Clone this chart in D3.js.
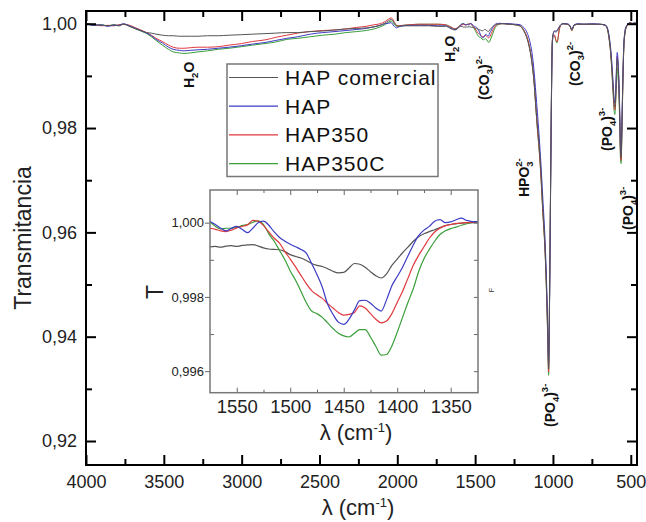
<!DOCTYPE html>
<html>
<head>
<meta charset="utf-8">
<script src="https://cdn.jsdelivr.net/npm/d3@7"></script>
<style>
  body { margin: 0; background: #fff; }
  svg { display: block; font-family: "Liberation Sans", Arial, sans-serif; }
</style>
</head>
<body>
<div id="chart"></div>
<script>
// ---- data ----
const seriesNames = ["HAP comercial", "HAP", "HAP350", "HAP350C"];

// main spectrum, outside the inset window (cm-1)
const mainWn = [4000, 3950, 3900, 3860, 3820, 3790, 3760, 3720, 3680, 3640, 3610, 3580, 3550, 3510, 3470, 3440, 3400, 3370, 3330, 3280,
  3220, 3150, 3080, 3000, 2930, 2850, 2780, 2710, 2640, 2560, 2480, 2400, 2330, 2260, 2200, 2150, 2110, 2080, 2055, 2040,
  2032, 2020, 2005, 1990, 1960, 1920, 1860, 1800, 1740, 1690, 1665, 1645, 1630, 1615, 1600, 1585,
  1310, 1280, 1240, 1210, 1195, 1180, 1165, 1150, 1135, 1120, 1110, 1100, 1090, 1080, 1065, 1050, 1040, 1033, 1028, 1022,
  1016, 1010, 1004, 998, 990, 982, 975, 968, 960, 950, 935, 910, 892, 884, 878, 872, 864, 840, 800, 750,
  700, 665, 650, 640, 630, 620, 612, 606, 602, 598, 592, 587, 582, 576, 570, 566, 562, 557, 551, 545,
  538, 530, 520, 510, 500, 490, 480, 470, 460];

const mainGray = [1.0000, 0.9998, 0.9997, 0.9996, 0.9998, 0.9996, 0.9999, 0.9995, 0.9990, 0.9986, 0.9983, 0.9982, 0.9980, 0.9978, 0.9977, 0.9977, 0.9976, 0.9976, 0.9976, 0.9976,
  0.9977, 0.9977, 0.9978, 0.9979, 0.9980, 0.9981, 0.9982, 0.9983, 0.9983, 0.9985, 0.9986, 0.9988, 0.9990, 0.9991, 0.9992, 0.9994, 0.9997, 1.0001, 1.0006, 1.0008,
  1.0007, 1.0002, 0.9996, 0.9995, 0.9996, 0.9996, 0.9996, 0.9996, 0.9995, 0.9995, 0.9992, 0.9989, 0.9988, 0.9990, 0.9994, 0.9995,
  1.0000, 0.9999, 0.9998, 0.9995, 0.9990, 0.9982, 0.9970, 0.9952, 0.9925, 0.9882, 0.9840, 0.9805, 0.9770, 0.9730, 0.9645, 0.9565, 0.9480, 0.9400, 0.9338, 0.9470,
  0.9665, 0.9855, 0.9968, 0.9982, 0.9986, 0.9984, 0.9985, 0.9988, 0.9993, 0.9998, 1.0000, 0.9999, 0.9996, 0.9991, 0.9988, 0.9992, 0.9997, 0.9999, 0.9999, 0.9999,
  0.9999, 0.9997, 0.9990, 0.9975, 0.9950, 0.9910, 0.9870, 0.9845, 0.9840, 0.9855, 0.9905, 0.9932, 0.9920, 0.9880, 0.9810, 0.9755, 0.9742, 0.9800, 0.9890, 0.9955,
  0.9982, 0.9993, 0.9998, 1.0001, 1.0002, 0.9999, 1.0001, 1.0001, 1.0001];

const mainBlue = [1.0000, 0.9997, 0.9998, 0.9995, 0.9997, 0.9997, 1.0000, 0.9996, 0.9991, 0.9986, 0.9982, 0.9977, 0.9970, 0.9963, 0.9955, 0.9951, 0.9949, 0.9948, 0.9949, 0.9950,
  0.9951, 0.9953, 0.9955, 0.9958, 0.9961, 0.9964, 0.9968, 0.9972, 0.9975, 0.9980, 0.9983, 0.9985, 0.9987, 0.9989, 0.9991, 0.9994, 0.9997, 1.0000, 1.0001, 1.0002,
  1.0000, 0.9995, 0.9992, 0.9994, 0.9996, 0.9997, 0.9997, 0.9997, 0.9996, 0.9996, 0.9993, 0.9990, 0.9989, 0.9991, 0.9995, 0.9999,
  1.0000, 1.0000, 0.9999, 0.9998, 0.9995, 0.9990, 0.9982, 0.9968, 0.9945, 0.9905, 0.9868, 0.9830, 0.9790, 0.9745, 0.9665, 0.9580, 0.9495, 0.9415, 0.9350, 0.9460,
  0.9650, 0.9840, 0.9960, 0.9980, 0.9986, 0.9986, 0.9987, 0.9990, 0.9994, 0.9998, 1.0000, 1.0000, 0.9997, 0.9992, 0.9989, 0.9993, 0.9998, 1.0000, 0.9999, 1.0000,
  0.9999, 0.9998, 0.9992, 0.9978, 0.9955, 0.9918, 0.9880, 0.9852, 0.9848, 0.9862, 0.9915, 0.9945, 0.9930, 0.9890, 0.9820, 0.9762, 0.9750, 0.9808, 0.9895, 0.9958,
  0.9985, 0.9995, 0.9999, 1.0002, 1.0001, 1.0000, 1.0002, 1.0000, 1.0001];

const mainRed = [1.0000, 0.9998, 0.9996, 0.9997, 0.9996, 0.9998, 0.9999, 0.9997, 0.9992, 0.9987, 0.9983, 0.9978, 0.9972, 0.9966, 0.9959, 0.9955, 0.9953, 0.9953, 0.9954, 0.9955,
  0.9955, 0.9956, 0.9959, 0.9962, 0.9966, 0.9969, 0.9974, 0.9978, 0.9982, 0.9985, 0.9987, 0.9988, 0.9990, 0.9993, 0.9995, 0.9998, 1.0000, 1.0004, 1.0009, 1.0011,
  1.0010, 1.0004, 0.9997, 0.9996, 0.9997, 0.9998, 0.9999, 0.9999, 0.9999, 0.9998, 0.9995, 0.9992, 0.9990, 0.9992, 0.9996, 0.9998,
  1.0000, 0.9999, 0.9998, 0.9996, 0.9991, 0.9984, 0.9973, 0.9955, 0.9928, 0.9885, 0.9842, 0.9800, 0.9765, 0.9722, 0.9640, 0.9560, 0.9475, 0.9395, 0.9332, 0.9468,
  0.9662, 0.9852, 0.9966, 0.9978, 0.9978, 0.9970, 0.9965, 0.9972, 0.9988, 0.9997, 1.0000, 0.9999, 0.9996, 0.9990, 0.9987, 0.9991, 0.9997, 0.9999, 0.9999, 0.9999,
  0.9999, 0.9997, 0.9990, 0.9973, 0.9948, 0.9905, 0.9865, 0.9838, 0.9835, 0.9850, 0.9900, 0.9938, 0.9922, 0.9880, 0.9805, 0.9748, 0.9738, 0.9795, 0.9885, 0.9952,
  0.9981, 0.9992, 0.9998, 1.0001, 1.0002, 1.0001, 1.0000, 1.0001, 1.0001];

const mainGreen = [1.0000, 0.9997, 0.9998, 0.9996, 0.9998, 0.9996, 0.9999, 0.9995, 0.9990, 0.9985, 0.9981, 0.9975, 0.9968, 0.9959, 0.9951, 0.9946, 0.9944, 0.9943, 0.9944, 0.9946,
  0.9948, 0.9951, 0.9953, 0.9956, 0.9959, 0.9962, 0.9965, 0.9970, 0.9972, 0.9975, 0.9978, 0.9980, 0.9983, 0.9985, 0.9987, 0.9990, 0.9994, 0.9998, 1.0003, 1.0005,
  1.0004, 0.9999, 0.9995, 0.9996, 0.9997, 0.9998, 0.9999, 0.9999, 0.9999, 0.9998, 0.9995, 0.9992, 0.9990, 0.9992, 0.9996, 1.0000,
  1.0000, 0.9999, 0.9998, 0.9996, 0.9991, 0.9983, 0.9972, 0.9954, 0.9926, 0.9884, 0.9840, 0.9798, 0.9762, 0.9720, 0.9638, 0.9557, 0.9470, 0.9388, 0.9326, 0.9465,
  0.9660, 0.9850, 0.9965, 0.9977, 0.9977, 0.9968, 0.9963, 0.9970, 0.9987, 0.9997, 1.0000, 0.9999, 0.9996, 0.9990, 0.9987, 0.9991, 0.9997, 0.9999, 0.9999, 0.9999,
  0.9999, 0.9997, 0.9989, 0.9972, 0.9946, 0.9900, 0.9858, 0.9830, 0.9826, 0.9842, 0.9885, 0.9915, 0.9900, 0.9862, 0.9795, 0.9740, 0.9732, 0.9790, 0.9882, 0.9950,
  0.9980, 0.9992, 0.9998, 1.0001, 1.0002, 0.9999, 1.0001, 1.0002, 1.0001];

// inset window, carbonate region (cm-1)
const insetWn = [1575, 1570, 1565, 1560, 1555, 1550, 1545, 1540, 1535, 1530, 1525, 1520, 1515, 1510, 1505, 1500, 1495, 1490, 1485, 1480,
  1475, 1470, 1465, 1460, 1455, 1450, 1445, 1440, 1435, 1430, 1425, 1420, 1415, 1410, 1405, 1400, 1395, 1390, 1385, 1380,
  1375, 1370, 1365, 1360, 1355, 1350, 1345, 1340, 1335, 1330, 1325];

const insetGray = [0.99935, 0.99936, 0.99934, 0.99937, 0.99938, 0.99936, 0.99939, 0.99940, 0.99941, 0.99937, 0.99932, 0.99929, 0.99928, 0.99927, 0.99922, 0.99914, 0.99909, 0.99905, 0.99898, 0.99890,
  0.99885, 0.99882, 0.99876, 0.99869, 0.99865, 0.99866, 0.99878, 0.99890, 0.99888, 0.99880, 0.99868, 0.99857, 0.99851, 0.99862, 0.99885, 0.99902, 0.99919, 0.99934, 0.99950, 0.99962,
  0.99970, 0.99976, 0.99981, 0.99987, 0.99992, 0.99995, 0.99997, 0.99999, 1.00000, 1.00000, 1.00001];

const insetBlue = [1.00003, 0.99995, 0.99985, 0.99978, 0.99985, 0.99990, 0.99982, 0.99973, 0.99985, 1.00000, 1.00004, 0.99993, 0.99975, 0.99960, 0.99950, 0.99942, 0.99935, 0.99928, 0.99918, 0.99890,
  0.99860, 0.99826, 0.99780, 0.99753, 0.99732, 0.99726, 0.99740, 0.99765, 0.99790, 0.99791, 0.99783, 0.99770, 0.99762, 0.99792, 0.99830, 0.99855, 0.99880, 0.99910, 0.99940, 0.99965,
  0.99980, 0.99990, 1.00004, 1.00008, 1.00000, 1.00002, 1.00008, 1.00012, 1.00006, 1.00003, 1.00003];

const insetRed = [0.99985, 0.99982, 0.99978, 0.99976, 0.99980, 0.99986, 0.99990, 0.99994, 1.00006, 1.00004, 0.99992, 0.99975, 0.99958, 0.99945, 0.99922, 0.99902, 0.99881, 0.99858, 0.99836, 0.99817,
  0.99806, 0.99796, 0.99782, 0.99770, 0.99758, 0.99751, 0.99753, 0.99758, 0.99776, 0.99770, 0.99755, 0.99740, 0.99730, 0.99735, 0.99755, 0.99785, 0.99815, 0.99850, 0.99885, 0.99912,
  0.99935, 0.99958, 0.99975, 0.99985, 0.99992, 0.99995, 0.99998, 0.99999, 1.00000, 1.00001, 1.00002];

const insetGreen = [1.00003, 0.99990, 0.99983, 0.99985, 0.99985, 0.99987, 0.99992, 0.99995, 1.00001, 1.00005, 0.99995, 0.99970, 0.99950, 0.99925, 0.99900, 0.99870, 0.99845, 0.99815, 0.99785, 0.99762,
  0.99755, 0.99745, 0.99730, 0.99715, 0.99702, 0.99695, 0.99692, 0.99702, 0.99712, 0.99712, 0.99692, 0.99667, 0.99643, 0.99645, 0.99668, 0.99705, 0.99745, 0.99785, 0.99822, 0.99868,
  0.99903, 0.99928, 0.99950, 0.99968, 0.99978, 0.99984, 0.99988, 0.99993, 0.99997, 1.00000, 1.00002];

// ticks
const xTicksMain = [4000, 3500, 3000, 2500, 2000, 1500, 1000, 500];
const xMinorMain = [3750, 3250, 2750, 2250, 1750, 1250, 750];
const yTicksMain = [0.92, 0.94, 0.96, 0.98, 1.00];
const yMinorMain = [0.93, 0.95, 0.97, 0.99];
const xTicksInset = [1550, 1500, 1450, 1400, 1350];
const xMinorInset = [1525, 1475, 1425, 1375];
const yTicksInset = [0.996, 0.998, 1.000];
const yMinorInset = [0.997, 0.999];

// ---- layout ----
const width = 646, height = 522;
const colors = ["#555555", "#3b3bc4", "#e0393e", "#3a9e3a"];
const font = '"Liberation Sans", Arial, sans-serif';
const locale = d3.formatLocale({ decimal: ",", thousands: ".", grouping: [3], currency: ["", ""] });

const svg = d3.select("#chart").append("svg")
  .attr("width", width)
  .attr("height", height);

const x = d3.scaleLinear().domain([4000, 460]).range([86, 637]);
const y = d3.scaleLinear().domain([0.9154, 1.00244]).range([465, 11]);

const xi = d3.scaleLinear().domain([1575, 1324.5]).range([210, 478]);
const yi = d3.scaleLinear().domain([0.99542, 1.00088]).range([392.7, 190]);

const mainT = [mainGray, mainBlue, mainRed, mainGreen];
const insetT = [insetGray, insetBlue, insetRed, insetGreen];

const series = seriesNames.map((name, i) => {
  const inset = insetWn.map((w, j) => [w, insetT[i][j]]);
  const full = mainWn.map((w, j) => [w, mainT[i][j]]).concat(inset)
    .sort((a, b) => b[0] - a[0]);
  return { name, color: colors[i], inset, full };
});

// clip for main plot
svg.append("clipPath").attr("id", "clipMain")
  .append("rect").attr("x", 86).attr("y", 11).attr("width", 551).attr("height", 454);

const line = d3.line()
  .x(d => x(d[0]))
  .y(d => y(d[1]))
  .curve(d3.curveMonotoneX);

const gMain = svg.append("g").attr("clip-path", "url(#clipMain)");
// green first, gray on top
[3, 2, 1, 0].forEach(i => {
  gMain.append("path").datum(series[i].full)
    .attr("fill", "none")
    .attr("stroke", series[i].color)
    .attr("stroke-width", 1)
    .attr("d", line);
});

// main axes
function styleAxis(g, size) {
  g.select(".domain").remove();
  g.selectAll(".tick line").attr("stroke", "#000").attr("stroke-width", 2);
  g.selectAll("text").attr("font-family", font).attr("font-size", size).attr("fill", "#222");
}

const fmt2 = locale.format(".2f");

svg.append("g").attr("transform", "translate(0,465)")
  .call(d3.axisBottom(x).tickValues(xTicksMain).tickFormat(d3.format("d")).tickSize(-10).tickPadding(10))
  .call(g => styleAxis(g, 18));
svg.append("g").attr("transform", "translate(0,465)")
  .call(d3.axisBottom(x).tickValues(xMinorMain).tickFormat("").tickSize(-6))
  .call(g => styleAxis(g, 18));
svg.append("g").attr("transform", "translate(0,11)")
  .call(d3.axisTop(x).tickValues(xTicksMain).tickFormat("").tickSize(-10))
  .call(g => styleAxis(g, 18));
svg.append("g").attr("transform", "translate(0,11)")
  .call(d3.axisTop(x).tickValues(xMinorMain).tickFormat("").tickSize(-6))
  .call(g => styleAxis(g, 18));

svg.append("g").attr("transform", "translate(86,0)")
  .call(d3.axisLeft(y).tickValues(yTicksMain).tickFormat(fmt2).tickSize(-10).tickPadding(9))
  .call(g => styleAxis(g, 18));
svg.append("g").attr("transform", "translate(86,0)")
  .call(d3.axisLeft(y).tickValues(yMinorMain).tickFormat("").tickSize(-6))
  .call(g => styleAxis(g, 18));
svg.append("g").attr("transform", "translate(637,0)")
  .call(d3.axisRight(y).tickValues(yTicksMain).tickFormat("").tickSize(-10))
  .call(g => styleAxis(g, 18));
svg.append("g").attr("transform", "translate(637,0)")
  .call(d3.axisRight(y).tickValues(yMinorMain).tickFormat("").tickSize(-6))
  .call(g => styleAxis(g, 18));

svg.append("rect")
  .attr("x", 86).attr("y", 11).attr("width", 551).attr("height", 454)
  .attr("fill", "none").attr("stroke", "#000").attr("stroke-width", 2);

// axis titles
function lambdaTitle(cx, by) {
  const t = svg.append("text")
    .attr("x", cx).attr("y", by)
    .attr("text-anchor", "middle")
    .attr("font-family", font).attr("font-size", 22).attr("fill", "#222");
  t.append("tspan").text("λ (cm");
  t.append("tspan").attr("font-size", 13).attr("dy", -8).text("-1");
  t.append("tspan").attr("dy", 8).text(")");
}
lambdaTitle(358, 515);

svg.append("text")
  .attr("transform", "translate(31,238) rotate(-90)")
  .attr("text-anchor", "middle")
  .attr("font-family", font).attr("font-size", 23).attr("fill", "#222")
  .text("Transmitancia");

// peak annotations (rotated, bold)
const notes = [
  { x: 193.5, y: 88, parts: [["H"], ["2", "sub"], ["O"]] },
  { x: 455, y: 62, parts: [["H"], ["2", "sub"], ["O"]] },
  { x: 488.5, y: 100, parts: [["(CO"], ["3", "sub"], [")"], ["2-", "sup"]] },
  { x: 580, y: 86, parts: [["(CO"], ["3", "sub"], [")"], ["2-", "sup"]] },
  { x: 528.5, y: 197, parts: [["HPO"], ["3", "sub"], ["2-", "supback"]] },
  { x: 611.5, y: 151, parts: [["(PO"], ["4", "sub"], [")"], ["3-", "sup"]] },
  { x: 632.5, y: 230, parts: [["(PO"], ["4", "sub"], [")"], ["3-", "sup"]] },
  { x: 555, y: 427, parts: [["(PO"], ["4", "sub"], [")"], ["3-", "sup"]] }
];

notes.forEach(n => {
  const t = svg.append("text")
    .attr("transform", `translate(${n.x},${n.y}) rotate(-90)`)
    .attr("font-family", font).attr("font-size", 14).attr("font-weight", "bold").attr("fill", "#111");
  let shift = 0;
  n.parts.forEach(([s, kind]) => {
    const ts = t.append("tspan").text(s);
    let target = 0;
    if (kind === "sub") { ts.attr("font-size", 9.5); target = 4; }
    if (kind === "sup") { ts.attr("font-size", 9.5); target = -7; }
    if (kind === "supback") { ts.attr("font-size", 9.5).attr("dx", -5.5); target = -7; }
    ts.attr("dy", target - shift);
    shift = target;
  });
});

// legend
const lg = svg.append("g");
lg.append("rect")
  .attr("x", 227).attr("y", 64).attr("width", 211).attr("height", 112.5)
  .attr("fill", "#fff").attr("stroke", "#777").attr("stroke-width", 1.5);
series.forEach((s, i) => {
  const cy = 77.5 + i * 28.7;
  lg.append("line")
    .attr("x1", 229).attr("x2", 278).attr("y1", cy).attr("y2", cy)
    .attr("stroke", s.color).attr("stroke-width", 1.2);
  lg.append("text")
    .attr("x", 285).attr("y", cy + 7.5)
    .attr("font-family", font).attr("font-size", 21).attr("letter-spacing", 1)
    .attr("fill", "#111")
    .text(s.name);
});

// ---- inset ----
const gIn = svg.append("g");
gIn.append("rect")
  .attr("x", 210).attr("y", 190).attr("width", 268).attr("height", 202.7)
  .attr("fill", "#fff");

svg.append("clipPath").attr("id", "clipInset")
  .append("rect").attr("x", 210).attr("y", 190).attr("width", 268).attr("height", 202.7);

const lineIn = d3.line()
  .x(d => xi(d[0]))
  .y(d => yi(d[1]))
  .curve(d3.curveMonotoneX);

const gInLines = gIn.append("g").attr("clip-path", "url(#clipInset)");
[0, 3, 2, 1].forEach(i => {
  gInLines.append("path").datum(series[i].inset)
    .attr("fill", "none")
    .attr("stroke", series[i].color)
    .attr("stroke-width", 1.2)
    .attr("d", lineIn);
});

function styleInset(g) {
  g.select(".domain").remove();
  g.selectAll(".tick line").attr("stroke", "#666").attr("stroke-width", 1);
  g.selectAll("text").attr("font-family", font).attr("fill", "#222");
}
const fmt3 = locale.format(".3f");

gIn.append("g").attr("transform", "translate(0,392.7)")
  .call(d3.axisBottom(xi).tickValues(xTicksInset).tickFormat(d3.format("d")).tickSize(-5).tickPadding(7))
  .call(styleInset)
  .call(g => g.selectAll("text").attr("font-size", 18.5));
gIn.append("g").attr("transform", "translate(0,392.7)")
  .call(d3.axisBottom(xi).tickValues(xMinorInset).tickFormat("").tickSize(-3))
  .call(styleInset);
gIn.append("g").attr("transform", "translate(0,190)")
  .call(d3.axisTop(xi).tickValues(xTicksInset).tickFormat("").tickSize(-5))
  .call(styleInset);
gIn.append("g").attr("transform", "translate(0,190)")
  .call(d3.axisTop(xi).tickValues(xMinorInset).tickFormat("").tickSize(-3))
  .call(styleInset);
gIn.append("g").attr("transform", "translate(210,0)")
  .call(d3.axisLeft(yi).tickValues(yTicksInset).tickFormat(fmt3).tickSize(5).tickPadding(1))
  .call(styleInset)
  .call(g => g.selectAll("text").attr("font-size", 13));
gIn.append("g").attr("transform", "translate(210,0)")
  .call(d3.axisLeft(yi).tickValues(yMinorInset).tickFormat("").tickSize(-4))
  .call(styleInset);
gIn.append("g").attr("transform", "translate(478,0)")
  .call(d3.axisRight(yi).tickValues(yTicksInset.concat(yMinorInset)).tickFormat("").tickSize(-4))
  .call(styleInset);

gIn.append("rect")
  .attr("x", 210).attr("y", 190).attr("width", 268).attr("height", 202.7)
  .attr("fill", "none").attr("stroke", "#777").attr("stroke-width", 1.5);

// inset titles
lambdaTitle(356, 440);
svg.append("text")
  .attr("transform", "translate(163,292) rotate(-90)")
  .attr("text-anchor", "middle")
  .attr("font-family", font).attr("font-size", 23).attr("fill", "#222")
  .text("T");
svg.append("text")
  .attr("transform", "translate(494,290) rotate(-90)")
  .attr("text-anchor", "middle")
  .attr("font-family", font).attr("font-size", 7).attr("fill", "#333")
  .text("F");
</script>
</body>
</html>
